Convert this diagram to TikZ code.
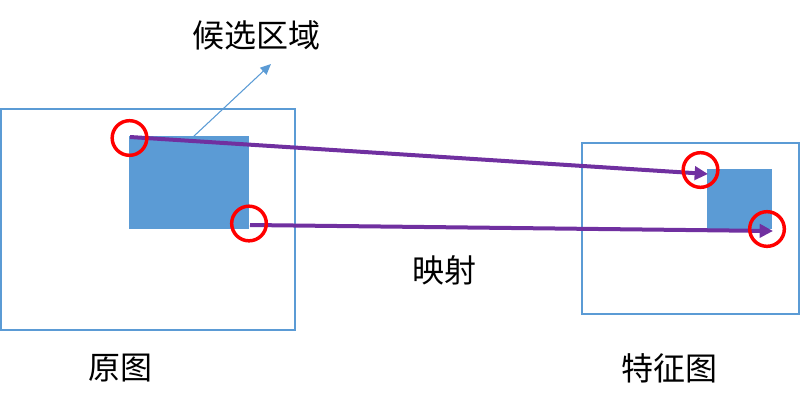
\documentclass[tikz,border=0pt]{standalone}
\usepackage{fontspec}
\newfontfamily\cjk{Noto Sans CJK SC}
\usetikzlibrary{arrows.meta}
\definecolor{obl}{HTML}{5B9BD5}
\definecolor{opu}{HTML}{7030A0}
\tikzset{
  frame/.style={draw=obl, line width=1.5pt},
  region/.style={fill=obl},
  ring/.style={draw=red, line width=2.6pt, circle, minimum size=26pt, inner sep=0pt},
  maparrow/.style={draw=opu, line width=3pt, -{Triangle[length=10pt,width=10pt]}},
  label/.style={font=\cjk\fontsize{24}{28}\selectfont, inner sep=0pt},
}
\begin{document}
\begin{tikzpicture}[x=0.75pt,y=-0.75pt]
\useasboundingbox (0,0) rectangle (800,407);
% frames
\draw[frame] (1,109) rectangle (295,330);
\draw[frame] (582,143) rectangle (799,314);
% regions
\fill[region] (129,136) rectangle (249,229);
\fill[region] (707,169) rectangle (772,229);
% coordinates
\coordinate (s1) at (130,137);
\coordinate (t1) at (708,174);
\coordinate (s2) at (250,225);
\coordinate (t2) at (773,231);
\coordinate (c0) at (193,137);
\coordinate (c1) at (271,64);
% labels
\node[label] (hx) at (256,35) {候选区域};
\node[label] (ys) at (444,270) {映射};
\node[label] (yt) at (120,368) {原图};
\node[label] (tz) at (669,368) {特征图};
% thin pointer
\draw[draw=obl, line width=0.8pt, -{Triangle[length=8pt,width=7pt]}] (c0) -- (c1);
% mapping arrows
\draw[maparrow] (s1) -- (t1);
\draw[maparrow] (s2) -- (t2);
% rings
\node[ring] (r1) at (129.5,138) {};
\node[ring] (r2) at (249,223.5) {};
\node[ring] (r3) at (700.5,170) {};
\node[ring] (r4) at (767,229) {};
\end{tikzpicture}
\end{document}
